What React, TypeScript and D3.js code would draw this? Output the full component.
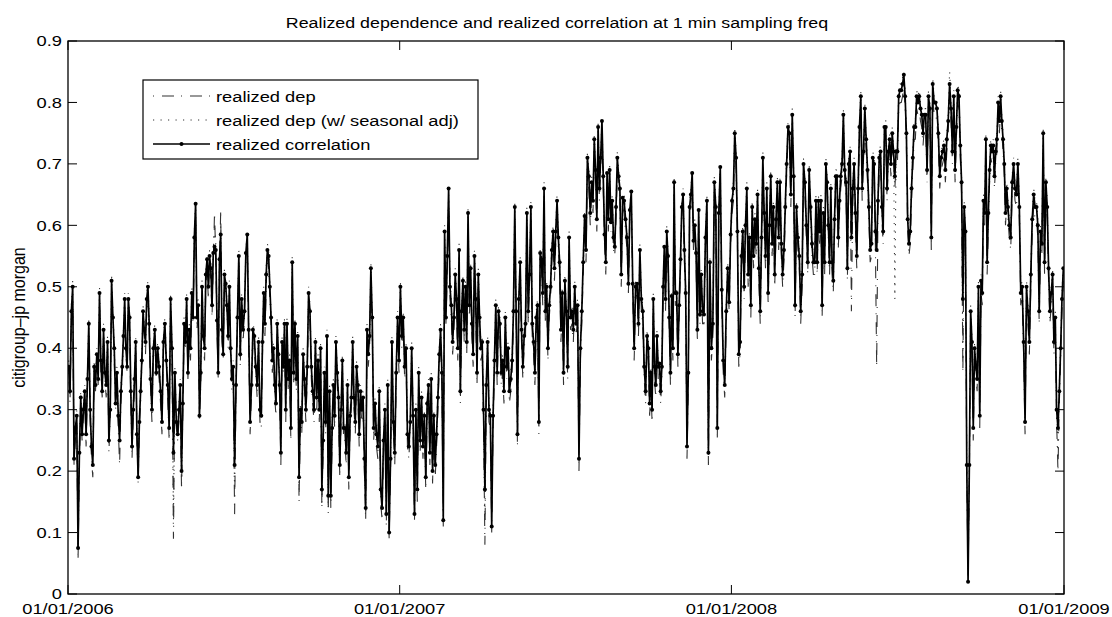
import React from "react";
import * as d3 from "d3";

// Daily values grouped by month (Jan..Dec) for each year.
const corr2006: number[][] = [
  [.37,.33,.46,.50,.22,.27,.29,.075,.23,.32,.26,.30,.33,.26,.35,.44,.30,.24,.21,.37,.34],
  [.39,.35,.49,.38,.33,.43,.36,.34,.41,.25,.30,.51,.45,.40,.31,.36,.29,.25,.33],
  [.37,.42,.48,.40,.37,.48,.45,.33,.24,.30,.35,.41,.26,.19,.28,.33,.38,.46,.43,.41,.48,.50,.44],
  [.35,.30,.40,.43,.36,.40,.37,.33,.28,.41,.44,.38,.34,.27,.48,.40,.23,.36,.28],
  [.26,.30,.34,.20,.31,.44,.41,.48,.36,.43,.40,.49,.45,.58,.635,.45,.47,.29,.36,.50,.42,.40],
  [.52,.545,.50,.55,.53,.47,.555,.565,.56,.445,.36,.545,.585,.43,.39,.52,.505,.47,.42,.50,.40,.35],
  [.37,.21,.34,.45,.55,.39,.48,.43,.46,.555,.585,.43,.28,.34,.43,.42,.37,.34,.41,.30],
  [.29,.41,.49,.44,.52,.56,.55,.50,.45,.38,.40,.34,.31,.44,.39,.34,.23,.41,.37,.44,.30,.44,.35],
  [.38,.27,.54,.36,.44,.35,.42,.19,.30,.28,.39,.35,.30,.37,.49,.46,.37,.33,.30,.41],
  [.32,.38,.30,.40,.17,.25,.36,.28,.42,.16,.33,.16,.27,.34,.29,.41,.36,.32,.21,.30,.38,.27],
  [.27,.23,.34,.19,.29,.32,.41,.32,.28,.37,.34,.26,.33,.30,.32,.22,.14,.43,.39,.42,.53],
  [.45,.27,.31,.26,.24,.33,.17,.14,.25,.30,.13,.34,.10,.22,.41,.28,.23,.36,.45,.38],
];
const corr2007: number[][] = [
  [.50,.42,.45,.37,.40,.26,.24,.28,.40,.29,.13,.30,.17,.36,.25,.32,.24,.29,.19,.31],
  [.34,.23,.35,.20,.29,.21,.26,.32,.39,.43,.36,.12,.59,.45,.55,.66,.50,.47,.41],
  [.45,.52,.48,.40,.56,.33,.46,.51,.43,.50,.41,.62,.47,.53,.44,.39,.55,.48,.36,.52,.45,.40],
  [.41,.30,.17,.34,.41,.30,.29,.11,.29,.38,.47,.36,.46,.44,.36,.38,.33,.45,.37,.40],
  [.33,.35,.38,.46,.63,.46,.26,.48,.54,.43,.37,.42,.44,.62,.46,.52,.63,.44,.41,.36,.45],
  [.47,.28,.555,.545,.49,.66,.46,.50,.40,.47,.50,.56,.59,.53,.59,.64,.58,.54,.43,.49,.36],
  [.51,.46,.37,.58,.45,.46,.43,.50,.44,.47,.22,.40,.46,.54,.615,.56,.71,.68,.62,.67],
  [.64,.74,.69,.61,.76,.66,.71,.77,.68,.585,.54,.685,.61,.69,.605,.64,.58,.565,.63,.71,.68,.66],
  [.52,.645,.64,.61,.58,.505,.625,.655,.505,.40,.50,.505,.44,.56,.48,.46,.37,.33,.42],
  [.40,.31,.36,.30,.48,.37,.34,.42,.37,.375,.33,.37,.50,.565,.48,.59,.55,.45,.36,.485,.40,.67,.49],
  [.49,.39,.47,.545,.63,.65,.56,.49,.24,.36,.63,.65,.685,.575,.60,.555,.43,.625,.455,.52,.46],
  [.455,.58,.64,.23,.54,.40,.44,.67,.63,.27,.62,.695,.495,.38,.34,.46,.53,.475,.585],
];
const corr2008: number[][] = [
  [.64,.66,.75,.71,.59,.39,.41,.55,.59,.50,.60,.66,.52,.58,.47,.63,.55,.61,.57,.65,.53],
  [.46,.58,.71,.62,.55,.66,.49,.60,.68,.57,.63,.52,.61,.67,.58,.67,.57,.52,.56,.63],
  [.70,.76,.75,.65,.78,.68,.47,.63,.58,.55,.46,.52,.70,.67,.60,.54,.69,.63,.57,.54],
  [.54,.64,.54,.64,.59,.64,.47,.62,.54,.70,.67,.60,.54,.66,.54,.51,.61,.68,.68,.58,.64,.68],
  [.70,.78,.69,.67,.53,.70,.72,.58,.66,.70,.62,.55,.66,.76,.81,.66,.72,.79,.74,.69,.63],
  [.56,.57,.71,.70,.59,.56,.64,.71,.72,.63,.59,.76,.76,.66,.72,.74,.70,.75,.72,.68,.72],
  [.72,.81,.82,.82,.83,.845,.81,.75,.61,.57,.59,.66,.71,.76,.76,.81,.80,.81,.79,.78,.75,.78],
  [.78,.69,.81,.79,.58,.83,.80,.80,.79,.75,.68,.71,.72,.73,.69,.74,.77,.83,.79,.72],
  [.81,.69,.76,.82,.81,.73,.67,.48,.63,.59,.21,.02,.21,.46,.41,.27,.40,.37,.35,.50,.29],
  [.51,.49,.64,.62,.74,.54,.62,.69,.73,.72,.73,.68,.72,.74,.80,.77,.81,.77,.74,.70,.62,.66,.63],
  [.60,.58,.67,.70,.66,.65,.70,.63,.49,.50,.41,.28,.50,.46,.41,.52,.61,.65,.63],
  [.63,.60,.46,.59,.57,.75,.54,.67,.63,.53,.46,.49,.52,.41,.45,.30,.27,.33,.40,.48,.53],
];

const dep2006: number[][] = [
  [.36,.31,.44,.48,.21,.25,.28,.055,.22,.30,.25,.29,.31,.24,.34,.42,.28,.22,.19,.35,.33],
  [.38,.34,.47,.36,.32,.41,.35,.32,.40,.23,.29,.49,.44,.38,.30,.35,.27,.21,.31],
  [.36,.40,.46,.39,.36,.46,.43,.31,.22,.29,.33,.40,.25,.18,.27,.31,.37,.45,.42,.39,.46,.48,.43],
  [.34,.28,.39,.41,.35,.39,.35,.31,.26,.40,.42,.37,.32,.25,.46,.38,.09,.34,.27],
  [.25,.28,.32,.17,.29,.42,.40,.46,.35,.41,.38,.47,.44,.56,.62,.43,.46,.28,.34,.48,.40,.38],
  [.50,.53,.48,.54,.51,.45,.54,.62,.55,.43,.35,.53,.625,.41,.38,.50,.49,.46,.40,.48,.38,.33],
  [.35,.13,.33,.43,.54,.37,.46,.41,.45,.54,.57,.41,.26,.33,.41,.40,.36,.32,.39,.28],
  [.27,.39,.47,.42,.50,.55,.53,.48,.44,.36,.38,.32,.29,.42,.37,.32,.21,.39,.36,.42,.28,.43,.33],
  [.36,.25,.53,.34,.42,.33,.40,.15,.28,.26,.37,.33,.28,.35,.47,.44,.35,.31,.28,.39],
  [.30,.36,.28,.38,.14,.23,.34,.26,.40,.13,.31,.14,.25,.32,.27,.39,.34,.30,.19,.28,.36,.25],
  [.25,.21,.32,.17,.27,.30,.39,.30,.26,.35,.32,.24,.31,.28,.30,.20,.12,.41,.37,.40,.51],
  [.43,.25,.29,.24,.22,.31,.15,.12,.23,.28,.11,.32,.09,.20,.39,.26,.21,.34,.43,.36],
];
const dep2007: number[][] = [
  [.48,.40,.44,.35,.38,.24,.22,.27,.38,.27,.12,.28,.15,.34,.23,.30,.22,.27,.17,.29],
  [.32,.21,.33,.18,.27,.19,.24,.30,.37,.41,.34,.11,.57,.44,.53,.64,.48,.45,.39],
  [.43,.50,.46,.38,.54,.31,.44,.49,.41,.48,.39,.60,.45,.51,.42,.37,.53,.46,.34,.50,.43,.38],
  [.39,.28,.08,.32,.39,.28,.27,.10,.27,.36,.45,.34,.44,.42,.34,.36,.31,.43,.35,.38],
  [.31,.33,.36,.44,.61,.44,.24,.46,.52,.41,.35,.40,.42,.60,.44,.50,.61,.42,.39,.34,.43],
  [.45,.26,.54,.53,.47,.64,.44,.48,.38,.45,.48,.54,.57,.51,.57,.62,.56,.52,.41,.47,.34],
  [.49,.44,.35,.56,.43,.44,.41,.48,.42,.45,.20,.38,.44,.52,.60,.54,.69,.66,.60,.65],
  [.62,.72,.67,.59,.74,.64,.69,.75,.66,.57,.52,.67,.59,.67,.59,.62,.56,.55,.61,.69,.66,.64],
  [.50,.63,.62,.59,.56,.49,.61,.64,.49,.38,.48,.49,.42,.54,.46,.44,.35,.31,.40],
  [.38,.29,.34,.28,.46,.35,.32,.40,.35,.36,.31,.35,.48,.55,.46,.57,.53,.43,.34,.47,.38,.65,.47],
  [.47,.37,.45,.53,.61,.63,.54,.47,.22,.34,.61,.63,.67,.56,.58,.54,.41,.61,.44,.50,.44],
  [.44,.56,.62,.21,.52,.38,.42,.65,.61,.25,.60,.68,.48,.36,.32,.44,.51,.46,.57],
];
const dep2008: number[][] = [
  [.62,.64,.73,.69,.57,.37,.39,.53,.57,.48,.58,.64,.50,.56,.45,.61,.53,.59,.55,.63,.51],
  [.44,.56,.69,.60,.53,.64,.47,.58,.66,.55,.61,.50,.59,.65,.56,.65,.55,.50,.54,.61],
  [.68,.74,.73,.63,.76,.66,.45,.61,.56,.53,.44,.50,.68,.65,.58,.52,.67,.61,.55,.52],
  [.52,.62,.52,.62,.57,.62,.45,.60,.52,.68,.65,.58,.52,.64,.52,.49,.59,.66,.66,.56,.62,.66],
  [.68,.76,.67,.65,.51,.68,.70,.46,.64,.68,.60,.53,.64,.74,.79,.64,.70,.77,.72,.67,.61],
  [.54,.55,.69,.68,.57,.37,.62,.69,.70,.61,.57,.74,.74,.64,.70,.72,.68,.73,.70,.66,.70],
  [.70,.79,.80,.80,.81,.83,.79,.73,.59,.55,.57,.64,.69,.74,.74,.79,.78,.79,.77,.76,.73,.76],
  [.76,.67,.79,.77,.56,.81,.78,.78,.77,.73,.66,.69,.70,.71,.67,.72,.75,.81,.77,.70],
  [.79,.67,.74,.80,.79,.71,.65,.36,.61,.57,.19,.03,.19,.44,.39,.25,.38,.35,.33,.48,.27],
  [.49,.47,.62,.60,.72,.52,.60,.67,.71,.70,.71,.66,.70,.72,.78,.75,.79,.75,.72,.68,.60,.64,.61],
  [.58,.56,.65,.68,.64,.63,.68,.61,.47,.48,.39,.26,.48,.44,.39,.50,.59,.63,.61],
  [.61,.58,.44,.57,.55,.73,.52,.65,.61,.51,.44,.47,.50,.39,.43,.28,.20,.31,.38,.46,.51],
];

const depSeas2006: number[][] = [
  [.38,.34,.47,.51,.23,.28,.30,.08,.24,.33,.27,.31,.34,.27,.36,.45,.31,.25,.22,.38,.35],
  [.40,.36,.50,.39,.34,.44,.37,.35,.42,.26,.31,.52,.46,.41,.32,.37,.30,.26,.34],
  [.38,.43,.49,.41,.38,.49,.46,.34,.25,.31,.36,.42,.27,.20,.29,.34,.39,.47,.44,.42,.49,.51,.45],
  [.36,.31,.41,.44,.37,.41,.38,.34,.29,.42,.45,.39,.35,.28,.49,.41,.12,.37,.29],
  [.27,.31,.35,.18,.32,.45,.42,.49,.37,.44,.41,.50,.46,.59,.64,.46,.48,.30,.37,.51,.43,.41],
  [.53,.55,.51,.56,.54,.48,.56,.60,.57,.46,.37,.55,.60,.44,.40,.53,.51,.48,.43,.51,.41,.36],
  [.38,.16,.35,.46,.56,.40,.49,.44,.47,.56,.59,.44,.29,.35,.44,.43,.38,.35,.42,.31],
  [.30,.42,.50,.45,.53,.57,.56,.51,.46,.39,.41,.35,.32,.45,.40,.35,.24,.42,.38,.45,.31,.45,.36],
  [.39,.28,.55,.37,.45,.36,.43,.17,.31,.29,.40,.36,.31,.38,.50,.47,.38,.34,.31,.42],
  [.33,.39,.31,.41,.15,.26,.37,.29,.43,.14,.34,.15,.28,.35,.30,.42,.37,.33,.22,.31,.39,.28],
  [.28,.24,.35,.20,.30,.33,.42,.33,.29,.38,.35,.27,.34,.31,.33,.23,.13,.44,.40,.43,.54],
  [.46,.28,.32,.27,.25,.34,.18,.15,.26,.31,.14,.35,.11,.23,.42,.29,.24,.37,.46,.39],
];
const depSeas2007: number[][] = [
  [.51,.43,.46,.38,.41,.27,.25,.29,.41,.30,.14,.31,.18,.37,.26,.33,.25,.30,.20,.32],
  [.35,.24,.36,.21,.30,.22,.27,.33,.40,.44,.37,.13,.60,.46,.56,.65,.51,.48,.42],
  [.46,.53,.49,.41,.57,.34,.47,.52,.44,.51,.42,.63,.48,.54,.45,.40,.56,.49,.37,.53,.46,.41],
  [.42,.31,.12,.35,.42,.31,.30,.13,.30,.39,.48,.37,.47,.45,.37,.39,.34,.46,.38,.41],
  [.34,.36,.39,.47,.64,.47,.27,.49,.55,.44,.38,.43,.45,.63,.47,.53,.64,.45,.42,.37,.46],
  [.48,.29,.56,.55,.50,.67,.47,.51,.41,.48,.51,.57,.60,.54,.60,.65,.59,.55,.44,.50,.37],
  [.52,.47,.38,.59,.46,.47,.44,.51,.45,.48,.24,.41,.47,.55,.62,.57,.72,.69,.63,.68],
  [.65,.75,.70,.62,.77,.67,.72,.77,.69,.59,.55,.69,.62,.70,.61,.65,.59,.57,.64,.72,.69,.67],
  [.53,.65,.65,.62,.59,.51,.63,.66,.51,.41,.51,.51,.45,.57,.49,.47,.38,.34,.43],
  [.41,.32,.37,.31,.49,.38,.35,.43,.38,.38,.34,.38,.51,.57,.49,.60,.56,.46,.37,.49,.41,.68,.50],
  [.50,.40,.48,.55,.64,.66,.57,.50,.25,.37,.64,.66,.69,.58,.61,.56,.44,.63,.46,.53,.47],
  [.46,.59,.65,.24,.55,.41,.45,.68,.64,.28,.63,.70,.50,.39,.35,.47,.54,.48,.59],
];
const depSeas2008: number[][] = [
  [.65,.67,.76,.72,.60,.40,.42,.56,.60,.51,.61,.67,.53,.59,.48,.64,.56,.62,.58,.66,.54],
  [.47,.59,.72,.63,.56,.67,.50,.61,.69,.58,.64,.53,.62,.68,.59,.68,.58,.53,.57,.64],
  [.71,.77,.76,.66,.79,.69,.48,.64,.59,.56,.47,.53,.71,.68,.61,.55,.70,.64,.58,.55],
  [.55,.65,.55,.65,.60,.65,.48,.63,.55,.71,.68,.61,.55,.67,.55,.52,.62,.69,.69,.59,.65,.69],
  [.71,.79,.70,.68,.54,.71,.73,.59,.67,.71,.63,.56,.67,.77,.82,.67,.73,.80,.75,.70,.64],
  [.57,.58,.72,.71,.60,.57,.65,.72,.73,.64,.60,.77,.77,.67,.73,.75,.71,.76,.73,.48,.73],
  [.73,.82,.83,.83,.84,.85,.82,.76,.62,.58,.60,.67,.72,.77,.77,.82,.81,.82,.80,.79,.76,.79],
  [.79,.70,.82,.80,.59,.84,.81,.81,.80,.76,.69,.72,.73,.74,.70,.75,.78,.85,.80,.73],
  [.82,.70,.77,.83,.82,.74,.68,.38,.64,.60,.22,.04,.22,.47,.42,.28,.41,.38,.36,.51,.30],
  [.52,.50,.65,.63,.75,.55,.63,.70,.74,.73,.74,.69,.73,.75,.81,.78,.82,.78,.75,.71,.63,.67,.64],
  [.61,.59,.68,.71,.67,.66,.71,.64,.50,.51,.42,.30,.51,.47,.42,.53,.62,.66,.64],
  [.64,.61,.47,.60,.58,.76,.55,.68,.64,.54,.47,.50,.53,.42,.46,.31,.22,.34,.41,.49,.54],
];

const years = [2006, 2007, 2008];
const yTicks = [0, 0.1, 0.2, 0.3, 0.4, 0.5, 0.6, 0.7, 0.8, 0.9];
const xTickYears = [2006, 2007, 2008, 2009];
const seriesLabels = ["realized dep", "realized dep (w/ seasonal adj)", "realized correlation"];
const titleText = "Realized dependence and realized correlation at 1 min sampling freq";
const yLabelText = "citigroup\u2013jp morgan";

type Pt = { date: Date; value: number };

// Spread each month's trading-day values evenly across that month.
function toPoints(byYear: number[][][]): Pt[] {
  const out: Pt[] = [];
  byYear.forEach((months, yi) => {
    const year = years[yi];
    months.forEach((vals, m) => {
      const start = new Date(year, m, 1).getTime();
      const end = new Date(year, m + 1, 1).getTime();
      vals.forEach((v, i) => {
        out.push({ date: new Date(start + ((i + 0.5) / vals.length) * (end - start)), value: v });
      });
    });
  });
  return out;
}

const W = 1112;
const H = 617;
const plot = { left: 68, right: 1064, top: 41, bottom: 594 };
const FONT = "'Liberation Sans', Arial, Helvetica, sans-serif";
const FS = 15.5;
const SX = 1.18;
const TICK = 9;

const DASHDOT = "1,8,12,7";
const DOTTED = "1.2,6.3";

function Label(props: { x: number; y: number; anchor?: string; rotate?: boolean; size?: number; children: React.ReactNode }) {
  const { x, y, anchor = "start", rotate = false, size = FS, children } = props;
  const t = `translate(${x},${y}) scale(${SX},1)${rotate ? " rotate(-90)" : ""}`;
  return (
    <text transform={t} textAnchor={anchor} fontFamily={FONT} fontSize={size} fill="#000">
      {children}
    </text>
  );
}

export default function App() {
  const x = d3
    .scaleTime()
    .domain([new Date(2006, 0, 1), new Date(2009, 0, 1)])
    .range([plot.left, plot.right]);
  const y = d3.scaleLinear().domain([0, 0.9]).range([plot.bottom, plot.top]);

  const line = d3
    .line<Pt>()
    .x((d) => x(d.date))
    .y((d) => y(d.value));

  const corr = toPoints([corr2006, corr2007, corr2008]);
  const dep = toPoints([dep2006, dep2007, dep2008]);
  const depSeas = toPoints([depSeas2006, depSeas2007, depSeas2008]);

  const legend = { x0: 143, x1: 478, y0: 80, y1: 159, rows: [96, 120, 144], lx0: 153, lx1: 210, tx: 216 };

  return (
    <div style={{ position: "absolute", left: 0, top: 0 }}>
      <svg width={W} height={H} style={{ display: "block", background: "#fff" }}>
        <rect x={0} y={0} width={W} height={H} fill="#fff" />
        <defs>
          <clipPath id="plotClip">
            <rect x={plot.left} y={plot.top - 2} width={plot.right - plot.left} height={plot.bottom - plot.top + 4} />
          </clipPath>
        </defs>

        {/* series */}
        <g clipPath="url(#plotClip)">
          <path d={line(dep) ?? ""} fill="none" stroke="#333" strokeWidth={1.1} strokeDasharray={DASHDOT} />
          <path d={line(depSeas) ?? ""} fill="none" stroke="#333" strokeWidth={1.1} strokeDasharray={DOTTED} />
          <path d={line(corr) ?? ""} fill="none" stroke="#000" strokeWidth={1.7} strokeLinejoin="round" />
          {corr.map((d, i) => (
            <circle key={i} cx={x(d.date)} cy={y(d.value)} r={2} fill="#000" />
          ))}
        </g>

        {/* axes box */}
        <rect
          x={plot.left}
          y={plot.top}
          width={plot.right - plot.left}
          height={plot.bottom - plot.top}
          fill="none"
          stroke="#000"
          strokeWidth={1.3}
        />

        {/* y ticks and labels */}
        {yTicks.map((t) => (
          <g key={t}>
            <line x1={plot.left} x2={plot.left + TICK} y1={y(t)} y2={y(t)} stroke="#000" strokeWidth={1} />
            <line x1={plot.right} x2={plot.right - TICK} y1={y(t)} y2={y(t)} stroke="#000" strokeWidth={1} />
            <Label x={plot.left - 6} y={y(t) + FS * 0.34} anchor="end">
              {String(t)}
            </Label>
          </g>
        ))}

        {/* x ticks and labels */}
        {xTickYears.map((yr) => {
          const px = x(new Date(yr, 0, 1));
          return (
            <g key={yr}>
              <line x1={px} x2={px} y1={plot.bottom} y2={plot.bottom - TICK} stroke="#000" strokeWidth={1} />
              <line x1={px} x2={px} y1={plot.top} y2={plot.top + TICK} stroke="#000" strokeWidth={1} />
              <Label x={px} y={614} anchor="middle">
                {`01/01/${yr}`}
              </Label>
            </g>
          );
        })}

        {/* title and axis label */}
        <Label x={557} y={28} anchor="middle" size={15.1}>
          {titleText}
        </Label>
        <Label x={25} y={(plot.top + plot.bottom) / 2} anchor="middle" rotate size={16}>
          {yLabelText}
        </Label>

        {/* legend */}
        <rect
          x={legend.x0}
          y={legend.y0}
          width={legend.x1 - legend.x0}
          height={legend.y1 - legend.y0}
          fill="#fff"
          stroke="#000"
          strokeWidth={1.2}
        />
        <line x1={legend.lx0} x2={legend.lx1} y1={legend.rows[0]} y2={legend.rows[0]} stroke="#333" strokeWidth={1.1} strokeDasharray={DASHDOT} />
        <line x1={legend.lx0} x2={legend.lx1} y1={legend.rows[1]} y2={legend.rows[1]} stroke="#333" strokeWidth={1.1} strokeDasharray={DOTTED} />
        <line x1={legend.lx0} x2={legend.lx1} y1={legend.rows[2]} y2={legend.rows[2]} stroke="#000" strokeWidth={1.3} />
        <circle cx={(legend.lx0 + legend.lx1) / 2} cy={legend.rows[2]} r={2} fill="#000" />
        {seriesLabels.map((s, i) => (
          <Label key={s} x={legend.tx} y={legend.rows[i] + FS * 0.36}>
            {s}
          </Label>
        ))}
      </svg>
    </div>
  );
}
